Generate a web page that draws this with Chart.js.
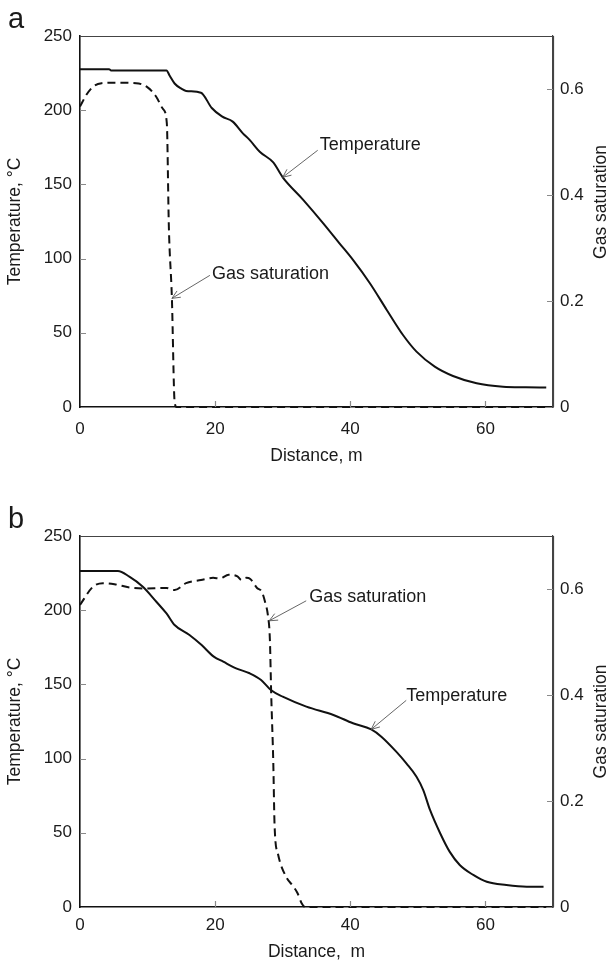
<!DOCTYPE html>
<html>
<head>
<meta charset="utf-8">
<script src="https://cdn.jsdelivr.net/npm/chart.js@4"></script>
<style>
  html, body { margin: 0; padding: 0; background: #fff; overflow: hidden; }
  .panel { position: absolute; left: 0; width: 611px; height: 481px; }
  #pa { top: 0; }
  #pb { top: 500px; }
</style>
</head>
<body>
<div class="panel" id="pa"><canvas id="ca" width="611" height="481"></canvas></div>
<div class="panel" id="pb"><canvas id="cb" width="611" height="481"></canvas></div>
<script>
// Tick values for the three axes
const distanceTicks = [0, 20, 40, 60];
const temperatureTicks = [0, 50, 100, 150, 200, 250];
const saturationTicks = [0, 0.2, 0.4, 0.6];

// Panel a: temperature profile (distance in m, temperature in °C)
const distA_T = [0, 4.3, 4.6, 12.8, 13.3, 14.0, 15.0, 15.7, 17.9, 19.5, 21.0, 22.6, 24.1, 25.1, 26.6, 28.6, 30.0, 33.0, 36.0, 38.4, 40.4, 42.9, 45.4, 47.8, 49.8, 52.5, 55.2, 58.7, 62.6, 66.0, 69.0];
const tempA   = [227.6, 227.6, 226.8, 226.8, 223, 218, 214.5, 213, 211.8, 201.5, 195.8, 192.3, 184.4, 180, 172, 164.8, 154.8, 139.8, 123.8, 110.3, 99.1, 83.4, 65.4, 48.5, 37.3, 27.2, 20.9, 16, 13.7, 13.3, 13.2];

// Panel a: gas saturation profile
const distA_S = [0, 1, 2, 3.2, 5, 8.3, 10.0, 11.3, 12.3, 12.85, 13.15, 13.6, 14.0, 14.3, 69.0];
const satA    = [0.567, 0.59, 0.605, 0.611, 0.612, 0.611, 0.603, 0.585, 0.562, 0.535, 0.34, 0.205, 0.01, 0, 0];

// Panel b: temperature profile
const distB_T = [0, 5.6, 7.3, 9.3, 11.3, 12.8, 14.0, 16.2, 18.0, 19.8, 21.2, 23.1, 25.1, 26.8, 28.3, 30.0, 33.5, 37.5, 40.4, 43.1, 44.6, 46.8, 48.3, 49.8, 50.8, 51.8, 53.3, 54.7, 56.2, 58.2, 60.2, 63.1, 66.1, 68.6];
const tempB   = [226.4, 226.4, 222.6, 215.8, 205.7, 197.8, 190, 183.3, 176.5, 168.7, 165.3, 160.8, 157.5, 153, 146, 141.7, 135, 129.4, 123.8, 119.7, 114.8, 104.7, 96.8, 87.8, 78.8, 65.4, 49.7, 37.3, 28.3, 21.6, 17, 14.8, 13.7, 13.7];

// Panel b: gas saturation profile
const distB_S = [0, 1.9, 3.4, 5.1, 7.3, 9.3, 12.8, 14.0, 15.7, 17.9, 19.7, 20.7, 22.0, 23.3, 23.9, 24.6, 25.2, 26.2, 26.9, 27.4, 27.8, 28.1, 28.3, 28.6, 28.8, 29.3, 30.5, 31.5, 32.2, 32.8, 33.3, 69.0];
const satB    = [0.57, 0.604, 0.611, 0.609, 0.603, 0.601, 0.602, 0.598, 0.611, 0.617, 0.621, 0.62, 0.627, 0.624, 0.617, 0.621, 0.619, 0.602, 0.595, 0.575, 0.551, 0.505, 0.4, 0.275, 0.152, 0.1, 0.057, 0.04, 0.026, 0.007, 0, 0];

const FONT = "'Liberation Sans', Arial, Helvetica, sans-serif";
const INK = '#1a1a1a';
Chart.defaults.font.family = FONT;
Chart.defaults.color = INK;

const toPoints = (xs, ys) => xs.map((x, i) => ({ x: x, y: ys[i] }));

// Frame, inward tick marks, callout arrows, right-hand axis title, panel letter
const decorations = {
  id: 'decorations',
  afterDraw(chart, args, opts) {
    const { ctx, chartArea: a, scales } = chart;
    ctx.save();

    // top and right edges of the frame
    ctx.strokeStyle = '#444';
    ctx.lineWidth = 1.2;
    ctx.beginPath();
    ctx.moveTo(a.left, a.top + 0.5);
    ctx.lineTo(a.right + 0.5, a.top + 0.5);
    ctx.lineTo(a.right + 0.5, a.bottom);
    ctx.stroke();

    // inward tick marks
    ctx.strokeStyle = '#8a8a8a';
    ctx.lineWidth = 1.2;
    const len = 6;
    ctx.beginPath();
    scales.x.ticks.forEach(t => {
      if (t.value <= scales.x.min) return;
      const px = Math.round(scales.x.getPixelForValue(t.value)) + 0.5;
      ctx.moveTo(px, a.bottom);
      ctx.lineTo(px, a.bottom - len);
    });
    scales.y.ticks.forEach(t => {
      if (t.value <= scales.y.min || t.value >= scales.y.max) return;
      const py = Math.round(scales.y.getPixelForValue(t.value)) + 0.5;
      ctx.moveTo(a.left, py);
      ctx.lineTo(a.left + len, py);
    });
    scales.y2.ticks.forEach(t => {
      if (t.value <= scales.y2.min || t.value >= scales.y2.max) return;
      const py = Math.round(scales.y2.getPixelForValue(t.value)) + 0.5;
      ctx.moveTo(a.right, py);
      ctx.lineTo(a.right - len, py);
    });
    ctx.stroke();

    // callouts: arrow from near the label to a point on a curve
    (opts.notes || []).forEach(n => {
      const sy = scales[n.axis];
      const tx = scales.x.getPixelForValue(n.x);
      const ty = sy.getPixelForValue(n.y);
      const sx = tx + n.line[0], syy = ty + n.line[1];
      ctx.strokeStyle = '#555';
      ctx.lineWidth = 0.9;
      ctx.beginPath();
      ctx.moveTo(sx, syy);
      ctx.lineTo(tx, ty);
      const ang = Math.atan2(ty - syy, tx - sx);
      const hl = 9, spread = 0.42;
      ctx.moveTo(tx - hl * Math.cos(ang - spread), ty - hl * Math.sin(ang - spread));
      ctx.lineTo(tx, ty);
      ctx.lineTo(tx - hl * Math.cos(ang + spread), ty - hl * Math.sin(ang + spread));
      ctx.stroke();
      ctx.fillStyle = INK;
      ctx.font = '18px ' + FONT;
      ctx.textAlign = 'left';
      ctx.textBaseline = 'middle';
      ctx.fillText(n.text, tx + n.label[0], ty + n.label[1]);
    });

    // right-hand axis title, reading bottom to top
    const cy = opts.rightTitleY != null ? opts.rightTitleY : (a.top + a.bottom) / 2;
    ctx.save();
    ctx.translate(601, cy);
    ctx.rotate(-Math.PI / 2);
    ctx.fillStyle = INK;
    ctx.font = '17.5px ' + FONT;
    ctx.textAlign = 'center';
    ctx.textBaseline = 'middle';
    ctx.fillText('Gas saturation', 0, 0);
    ctx.restore();

    // panel letter
    ctx.fillStyle = INK;
    ctx.font = '29px ' + FONT;
    ctx.textAlign = 'left';
    ctx.textBaseline = 'alphabetic';
    ctx.fillText(opts.letter, 8, 28);

    ctx.restore();
  }
};

function buildPanel(canvasId, temps, sats, cfg) {
  return new Chart(document.getElementById(canvasId), {
    type: 'line',
    data: {
      datasets: [
        {
          label: 'Temperature',
          data: temps,
          yAxisID: 'y',
          borderColor: '#111',
          borderWidth: 2,
          pointRadius: 0,
          fill: false,
          cubicInterpolationMode: 'monotone',
          clip: 4
        },
        {
          label: 'Gas saturation',
          data: sats,
          yAxisID: 'y2',
          borderColor: '#111',
          borderWidth: 2,
          borderDash: [8, 5],
          pointRadius: 0,
          fill: false,
          cubicInterpolationMode: 'monotone',
          clip: 4
        }
      ]
    },
    options: {
      responsive: false,
      animation: false,
      devicePixelRatio: 1,
      layout: { padding: { top: 36, left: 0, right: 0, bottom: 481 - 407 - 60 } },
      plugins: {
        legend: { display: false },
        tooltip: { enabled: false },
        decorations: { letter: cfg.letter, rightTitleY: cfg.rightTitleY, notes: cfg.notes }
      },
      scales: {
        x: {
          type: 'linear',
          position: 'bottom',
          min: 0,
          max: 70,
          afterBuildTicks: s => { s.ticks = distanceTicks.map(v => ({ value: v })); },
          afterFit: s => { s.height = 60; },
          grid: { display: false, drawTicks: false },
          border: { display: true, color: '#111', width: 1.6 },
          ticks: { padding: cfg.tickPad, font: { size: 17 }, color: INK, maxRotation: 0, callback: v => String(v) },
          title: { display: true, text: cfg.xTitle, font: { size: 17.5 }, color: INK, padding: { top: 0, bottom: cfg.titlePad } }
        },
        y: {
          type: 'linear',
          position: 'left',
          min: 0,
          max: 250,
          afterBuildTicks: s => { s.ticks = temperatureTicks.map(v => ({ value: v })); },
          afterFit: s => { s.width = 80; },
          grid: { display: false, drawTicks: false },
          border: { display: true, color: '#111', width: 1.6 },
          ticks: { padding: 8, font: { size: 17 }, color: INK, callback: v => String(v) },
          title: { display: true, text: 'Temperature, °C', font: { size: 17.5 }, color: INK, padding: { top: 5, bottom: 0 } }
        },
        y2: {
          type: 'linear',
          position: 'right',
          min: 0,
          max: 0.7,
          afterBuildTicks: s => { s.ticks = saturationTicks.map(v => ({ value: v })); },
          afterFit: s => { s.width = 58; },
          grid: { display: false, drawTicks: false },
          border: { display: true, color: '#444', width: 1.2 },
          ticks: { padding: 7, font: { size: 17 }, color: INK, callback: v => String(v) }
        }
      }
    },
    plugins: [decorations]
  });
}

buildPanel('ca', toPoints(distA_T, tempA), toPoints(distA_S, satA), {
  letter: 'a',
  xTitle: 'Distance, m',
  tickPad: 12,
  titlePad: 0,
  rightTitleY: 202,
  notes: [
    { text: 'Temperature', axis: 'y', x: 30.0, y: 154.8, label: [37, -32], line: [35, -27] },
    { text: 'Gas saturation', axis: 'y2', x: 13.6, y: 0.205, label: [40, -24], line: [38, -23] }
  ]
});

buildPanel('cb', toPoints(distB_T, tempB), toPoints(distB_S, satB), {
  letter: 'b',
  xTitle: 'Distance,  m',
  tickPad: 8,
  titlePad: 4,
  rightTitleY: null,
  notes: [
    { text: 'Gas saturation', axis: 'y2', x: 28.0, y: 0.54, label: [40, -24], line: [37, -20] },
    { text: 'Temperature', axis: 'y', x: 43.1, y: 119.7, label: [35, -33], line: [35, -29] }
  ]
});
</script>
</body>
</html>
